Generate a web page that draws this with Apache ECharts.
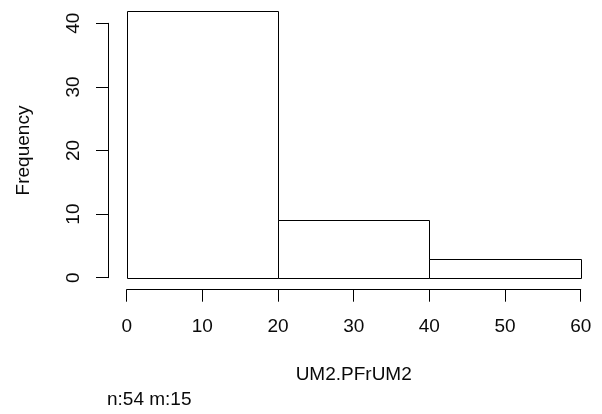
<!DOCTYPE html>
<html>
<head>
<meta charset="utf-8">
<script src="https://cdn.jsdelivr.net/npm/echarts@6/dist/echarts.min.js"></script>
<style>
  html, body { margin: 0; padding: 0; background: #fff; }
  #chart { width: 602px; height: 414px; }
</style>
</head>
<body>
<div id="chart"></div>
<script>
// Histogram bins of UM2.PFrUM2
const binStarts = [0, 20, 40];
const binEnds = [20, 40, 60];
const counts = [42, 9, 3];
const xTicks = [0, 10, 20, 30, 40, 50, 60];
const yTicks = [0, 10, 20, 30, 40];
const xTitle = 'UM2.PFrUM2';
const yTitle = 'Frequency';
const footnote = 'n:54 m:15';

const FONT = 'Liberation Sans, Arial, sans-serif';
const FS = 19;
const INK = '#000';
const TEXT = '#0a0a0a';

const plotLeft = 126.7, plotRight = 602 - 580.7, plotBottom = 414 - 277.7;
const unitPx = (277.7 - 23.3) / 40;
const yMax = Math.max(...counts);

const chart = echarts.init(document.getElementById('chart'), null, { renderer: 'canvas' });

const histData = binStarts.map((s, i) => [s, binEnds[i], counts[i]]);

chart.setOption({
  animation: false,
  backgroundColor: '#fff',
  textStyle: { fontFamily: FONT },
  title: {
    text: footnote,
    left: 102,
    top: 385,
    textStyle: { fontFamily: FONT, fontSize: FS, fontWeight: 'normal', color: TEXT }
  },
  grid: [
    // data area (tallest bar sets the top)
    { left: plotLeft, right: plotRight, bottom: plotBottom, top: 277.7 - yMax * unitPx },
    // axis frame for the labelled y range
    { left: plotLeft, right: plotRight, bottom: plotBottom, top: 23.3 }
  ],
  xAxis: [
    {
      type: 'value', gridIndex: 0, min: xTicks[0], max: xTicks[xTicks.length - 1], interval: 10,
      offset: 12,
      name: xTitle, nameLocation: 'middle', nameGap: 76,
      nameTextStyle: { fontFamily: FONT, fontSize: FS, color: TEXT },
      axisLine: { show: true, onZero: false, lineStyle: { color: INK, width: 1 } },
      axisTick: { show: true, length: 12, lineStyle: { color: INK, width: 1 } },
      axisLabel: { margin: 28, fontFamily: FONT, fontSize: FS, color: TEXT,
        formatter: v => xTicks.includes(v) ? String(v) : '' },
      splitLine: { show: false }
    },
    {
      type: 'value', gridIndex: 1, min: 0, max: 60, show: false,
      axisLine: { onZero: false }
    }
  ],
  yAxis: [
    {
      type: 'value', gridIndex: 0, min: 0, max: yMax, show: false,
      axisLine: { onZero: false }
    },
    {
      type: 'value', gridIndex: 1, min: yTicks[0], max: yTicks[yTicks.length - 1], interval: 10,
      offset: 18.7,
      name: yTitle, nameLocation: 'middle', nameGap: 75, nameRotate: 90,
      nameTextStyle: { fontFamily: FONT, fontSize: FS, color: TEXT },
      axisLine: { show: true, onZero: false, lineStyle: { color: INK, width: 1 } },
      axisTick: { show: true, length: 12, lineStyle: { color: INK, width: 1 } },
      axisLabel: { rotate: 90, margin: 25, fontFamily: FONT, fontSize: FS, color: TEXT,
        formatter: v => yTicks.includes(v) ? String(v) : '' },
      splitLine: { show: false }
    }
  ],
  series: [
    {
      type: 'custom',
      xAxisIndex: 0,
      yAxisIndex: 0,
      clip: false,
      data: histData,
      encode: { x: [0, 1], y: 2 },
      renderItem: function (params, api) {
        const p0 = api.coord([api.value(0), api.value(2)]);
        const p1 = api.coord([api.value(1), 0]);
        return {
          type: 'rect',
          shape: {
            x: Math.round(p0[0]) + 0.5,
            y: Math.round(p0[1]) + 0.5,
            width: Math.round(p1[0]) - Math.round(p0[0]),
            height: Math.round(p1[1]) - Math.round(p0[1])
          },
          style: { fill: '#fff', stroke: INK, lineWidth: 1 }
        };
      }
    }
  ]
});
</script>
</body>
</html>
